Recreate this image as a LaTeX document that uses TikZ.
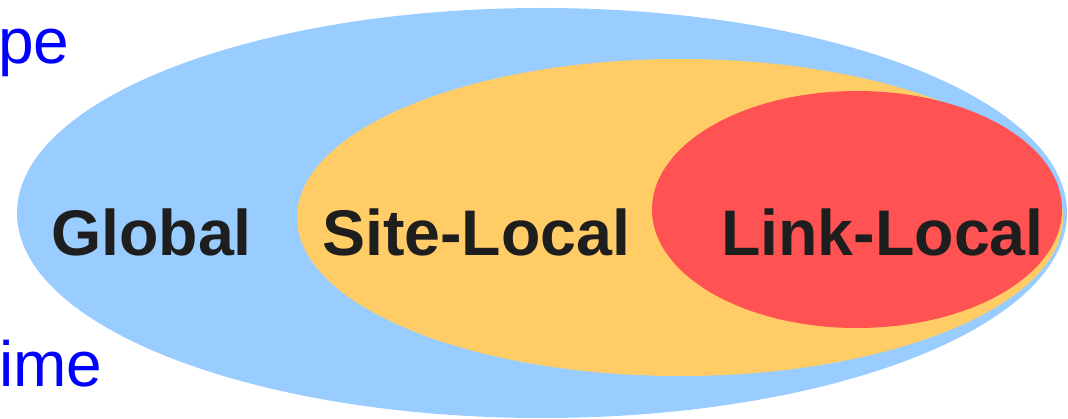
\documentclass[tikz,border=0pt]{standalone}
\usepackage{fontspec}
\setmainfont{Liberation Sans}
\usetikzlibrary{shapes.geometric}
\definecolor{gblue}{RGB}{153,204,255}
\definecolor{sorange}{RGB}{255,204,102}
\definecolor{lred}{RGB}{255,82,82}
\definecolor{txt}{RGB}{30,30,30}
\tikzset{
  zone/.style={ellipse, inner sep=0pt, draw=none},
  lbl/.style={anchor=base west, inner sep=0pt, text=txt, font=\fontsize{64.5}{70}\selectfont\bfseries},
  side/.style={anchor=base west, inner sep=0pt, text=blue, font=\fontsize{64}{70}\selectfont}
}
\begin{document}
\begin{tikzpicture}[x=1pt,y=-1pt]
\useasboundingbox (0,0) rectangle (1068,419);
\clip (0,0) rectangle (1068,419);
\node[zone, fill=gblue, minimum width=1050pt, minimum height=410pt] (global) at (542,213) {};
\node[zone, fill=sorange, minimum width=766pt, minimum height=317pt] (site) at (680,217.5) {};
\node[zone, fill=lred, minimum width=410pt, minimum height=237pt] (link) at (857,209.5) {};
\node[lbl] (tglobal) at (51,256) {Global};
\node[lbl] (tsite) at (322,256) {Site-Local};
\node[lbl] (tlink) at (721,256) {Link-Local};
\node[side] (scope) at (-2,64) {pe};
\node[side] (life) at (-1,387) {ime};
\end{tikzpicture}
\end{document}
